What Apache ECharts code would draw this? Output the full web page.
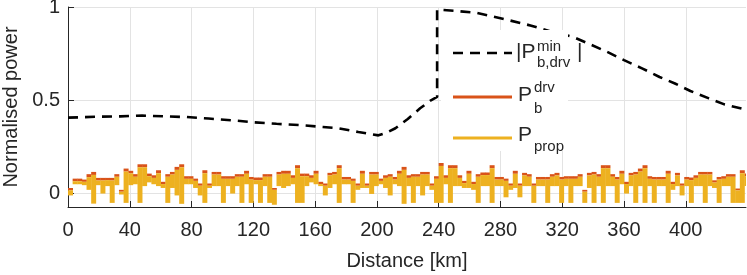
<!DOCTYPE html>
<html><head><meta charset="utf-8">
<script src="https://cdn.jsdelivr.net/npm/echarts@6/dist/echarts.min.js"></script>
<style>html,body{margin:0;padding:0;background:#fff}#c{width:747px;height:275px}</style>
</head><body><div id="c"></div>
<script>
// ---- data ----
const binStartKm = [0,3,6,9,12,15,18,21,24,27,30,33,36,39,42,45,48,51,54,57,60,63,66,69,72,75,78,81,84,87,
90,93,96,99,102,105,108,111,114,117,120,123,126,129,132,135,138,141,144,147,150,153,156,159,162,165,168,171,174,177,
180,183,186,189,192,195,198,201,204,207,210,213,216,219,222,225,228,231,234,237,240,243,246,249,252,255,258,261,264,267,
270,273,276,279,282,285,288,291,294,297,300,303,306,309,312,315,318,321,324,327,330,333,336,339,342,345,348,351,354,357,
360,363,366,369,372,375,378,381,384,387,390,393,396,399,402,405,408,411,414,417,420,423,426,429,432,435,438];
const binWidthKm = 3;
// top of P_b^drv (orange) per bin
const drvTop = [0.03,0.08,0.08,0.075,0.104,0.116,0.084,0.084,0.084,0.084,0.104,0.02,0.134,0.122,0.104,0.157,0.157,0.107,0.098,0.125,
0.063,0.104,0.116,0.143,0.157,0.093,0.093,0.08,0.054,0.125,0.054,0.116,0.116,0.093,0.093,0.093,0.104,0.104,0.122,0.089,
0.086,0.086,0.104,0.104,0.03,0.116,0.122,0.122,0.098,0.152,0.107,0.107,0.098,0.122,0.063,0.054,0.111,0.116,0.152,0.089,
0.089,0.08,0.054,0.122,0.054,0.116,0.116,0.08,0.098,0.104,0.089,0.122,0.143,0.098,0.104,0.104,0.116,0.116,0.054,0.093,
0.164,0.098,0.152,0.152,0.098,0.068,0.122,0.063,0.104,0.113,0.113,0.152,0.089,0.089,0.08,0.054,0.122,0.054,0.111,0.104,
0.054,0.089,0.089,0.089,0.104,0.111,0.089,0.093,0.093,0.093,0.104,0.02,0.111,0.116,0.104,0.152,0.152,0.104,0.089,0.122,
0.063,0.111,0.116,0.134,0.152,0.093,0.089,0.089,0.089,0.122,0.063,0.111,0.054,0.089,0.086,0.098,0.116,0.116,0.116,0.071,
0.089,0.093,0.104,0.104,0.027,0.125,0.107];
// thickness of the P_b^drv band above P_prop
const drvBand = [0.012,0.014,0.014,0.012,0.016,0.016,0.014,0.014,0.012,0.014,0.014,0.010,0.016,0.014,0.014,0.016,0.016,0.014,0.014,0.016,
0.012,0.014,0.014,0.016,0.016,0.014,0.014,0.012,0.012,0.016,0.012,0.014,0.014,0.014,0.014,0.014,0.014,0.014,0.016,0.014,
0.014,0.014,0.014,0.014,0.010,0.014,0.016,0.016,0.014,0.016,0.014,0.014,0.014,0.016,0.012,0.012,0.014,0.014,0.016,0.014,
0.014,0.012,0.012,0.016,0.012,0.014,0.014,0.012,0.014,0.014,0.014,0.016,0.016,0.014,0.014,0.014,0.014,0.014,0.012,0.014,
0.016,0.014,0.016,0.016,0.014,0.012,0.016,0.012,0.014,0.014,0.014,0.016,0.014,0.014,0.012,0.012,0.016,0.012,0.014,0.014,
0.012,0.014,0.014,0.014,0.014,0.014,0.014,0.014,0.014,0.014,0.014,0.010,0.014,0.014,0.014,0.016,0.016,0.014,0.014,0.016,
0.012,0.014,0.014,0.016,0.016,0.014,0.014,0.014,0.014,0.016,0.012,0.014,0.012,0.014,0.014,0.014,0.014,0.014,0.014,0.012,
0.014,0.014,0.014,0.014,0.010,0.016,0.014];
// lowest value reached by P_prop within each bin
const propLow = [-0.01,0.05,0.05,0.045,0.02,-0.054,0.045,0.0,0.04,-0.05,0.045,-0.005,-0.05,0.045,0.05,-0.05,0.04,0.06,0.05,0.04,
0.03,-0.05,0.03,-0.01,-0.055,0.05,0.05,0.03,-0.01,-0.05,0.03,0.04,0.04,-0.05,0.04,0.0,0.04,-0.05,0.05,-0.05,
0.05,-0.05,0.04,-0.05,-0.06,0.04,0.03,0.04,0.05,-0.05,-0.05,0.04,0.06,0.05,0.04,-0.01,0.03,0.05,-0.05,0.05,
0.05,-0.05,0.02,0.03,0.03,-0.002,0.04,0.05,0.03,-0.01,0.05,0.04,-0.055,0.04,-0.05,0.04,-0.01,0.04,0.02,-0.05,
-0.05,0.05,-0.05,0.04,0.04,0.03,0.03,0.02,-0.05,0.04,0.04,-0.05,0.04,0.04,-0.02,0.02,0.03,-0.02,0.04,0.04,
-0.05,0.04,0.04,-0.05,0.04,0.04,-0.05,0.04,-0.05,0.04,0.04,-0.05,0.03,-0.05,0.04,-0.05,0.04,0.04,-0.05,0.05,
0.0,0.04,-0.05,0.04,-0.05,0.04,-0.05,0.04,0.04,-0.05,0.02,0.04,-0.01,0.04,-0.05,0.04,0.04,-0.05,0.04,0.03,
-0.05,0.04,0.04,-0.05,-0.05,-0.05,0.04];
// |P_b,drv^min| dashed curve
const minDrvDistance = [0,20,34,48,63,77,91,106,120,135,150,165,175,188,201,206,212,220,228,235,239,
239,250,265,284,300,312,327,338,349,360,372,383,393,403,415,425,439];
const minDrvPower = [0.407,0.412,0.414,0.418,0.414,0.41,0.402,0.393,0.382,0.374,0.367,0.357,0.35,0.33,0.312,0.325,0.35,0.40,0.457,0.50,0.518,
0.986,0.98,0.968,0.932,0.90,0.87,0.84,0.80,0.76,0.715,0.67,0.625,0.59,0.55,0.51,0.478,0.45];
const xTickValues = [0,40,80,120,160,200,240,280,320,360,400];
const yTickValues = [0,0.5,1];

// ---- chart ----
const FONT = '"Liberation Sans", Arial, Helvetica, sans-serif';
const TXT = '#262626';
const chart = echarts.init(document.getElementById('c'), null, {renderer: 'canvas'});

function bandRenderer(color) {
  return function (params, api) {
    const a = api.coord([api.value(0), api.value(3)]);
    const b = api.coord([api.value(1), api.value(2)]);
    const rect = echarts.graphic.clipRectByRect(
      {x: a[0], y: a[1], width: b[0] - a[0] + 0.35, height: b[1] - a[1]},
      {x: params.coordSys.x, y: params.coordSys.y, width: params.coordSys.width, height: params.coordSys.height});
    return rect && {type: 'rect', shape: rect, style: {fill: color}};
  };
}
const propRows = binStartKm.map((s, i) => [s, s + binWidthKm, propLow[i], drvTop[i] - drvBand[i]]);
const drvRows = binStartKm.map((s, i) => [s, s + binWidthKm, drvTop[i] - drvBand[i], drvTop[i]]);

const lg = {x0: 453, x1: 512};
chart.setOption({
  animation: false,
  backgroundColor: '#fff',
  grid: {left: 68, right: 1, top: 7, bottom: 68, outerBoundsMode: 'none', containLabel: false},
  xAxis: {
    type: 'value', min: 0, max: 439, interval: 40,
    name: 'Distance [km]', nameLocation: 'middle', nameGap: 44,
    nameTextStyle: {fontFamily: FONT, fontSize: 20, color: TXT},
    axisLine: {onZero: false, lineStyle: {color: TXT, width: 1}},
    axisTick: {inside: true, length: 6, lineStyle: {color: TXT}, customValues: xTickValues},
    axisLabel: {fontFamily: FONT, fontSize: 20, color: TXT, margin: 13, customValues: xTickValues},
    splitLine: {show: true, lineStyle: {color: '#e3e3e3', width: 1}}
  },
  yAxis: {
    type: 'value', min: -0.072, max: 1, splitNumber: 2,
    name: 'Normalised power', nameLocation: 'middle', nameGap: 44,
    nameTextStyle: {fontFamily: FONT, fontSize: 20, color: TXT},
    axisLine: {show: true, lineStyle: {color: TXT, width: 1}},
    axisTick: {show: true, inside: true, length: 6, lineStyle: {color: TXT}, customValues: yTickValues},
    axisLabel: {fontFamily: FONT, fontSize: 20, color: TXT, margin: 8, customValues: yTickValues},
    splitLine: {show: true, lineStyle: {color: '#e3e3e3', width: 1}}
  },
  series: [
    {type: 'custom', name: 'P_b^drv', renderItem: bandRenderer('#D95319'), encode: {x: [0, 1], y: [2, 3]}, data: drvRows, z: 2},
    {type: 'custom', name: 'P_prop', renderItem: bandRenderer('#EDB120'), encode: {x: [0, 1], y: [2, 3]}, data: propRows, z: 3},
    {type: 'line', name: '|P_b,drv^min|', symbol: 'none', z: 5,
     lineStyle: {color: '#000', width: 2.6, type: [10, 7]},
     data: minDrvDistance.map((x, i) => [x, minDrvPower[i]])}
  ],
  graphic: [
    {type: 'rect', z: 100, shape: {x: 441, y: 30, width: 127, height: 121}, style: {fill: '#fff'}},
    {type: 'line', z: 101, shape: {x1: lg.x0, y1: 53, x2: lg.x1, y2: 53}, style: {stroke: '#000', lineWidth: 2.6, lineDash: [10, 7]}},
    {type: 'text', z: 101, x: 516, y: 52.7, style: {text: '|P', font: '21px ' + FONT, fill: TXT, verticalAlign: 'middle'}},
    {type: 'text', z: 101, x: 537, y: 46.5, style: {text: 'min', font: '15px ' + FONT, fill: TXT, verticalAlign: 'middle'}},
    {type: 'text', z: 101, x: 537, y: 62.5, style: {text: 'b,drv', font: '15px ' + FONT, fill: TXT, verticalAlign: 'middle'}},
    {type: 'text', z: 101, x: 577, y: 52.7, style: {text: '|', font: '21px ' + FONT, fill: TXT, verticalAlign: 'middle'}},
    {type: 'line', z: 101, shape: {x1: lg.x0, y1: 97, x2: lg.x1, y2: 97}, style: {stroke: '#D95319', lineWidth: 3}},
    {type: 'text', z: 101, x: 518, y: 95.7, style: {text: 'P', font: '21px ' + FONT, fill: TXT, verticalAlign: 'middle'}},
    {type: 'text', z: 101, x: 534, y: 87.8, style: {text: 'drv', font: '15px ' + FONT, fill: TXT, verticalAlign: 'middle'}},
    {type: 'text', z: 101, x: 534, y: 108.5, style: {text: 'b', font: '15px ' + FONT, fill: TXT, verticalAlign: 'middle'}},
    {type: 'line', z: 101, shape: {x1: lg.x0, y1: 138, x2: lg.x1, y2: 138}, style: {stroke: '#EDB120', lineWidth: 3}},
    {type: 'text', z: 101, x: 518, y: 135.7, style: {text: 'P', font: '21px ' + FONT, fill: TXT, verticalAlign: 'middle'}},
    {type: 'text', z: 101, x: 534, y: 146.8, style: {text: 'prop', font: '15px ' + FONT, fill: TXT, verticalAlign: 'middle'}}
  ]
});
</script></body></html>
